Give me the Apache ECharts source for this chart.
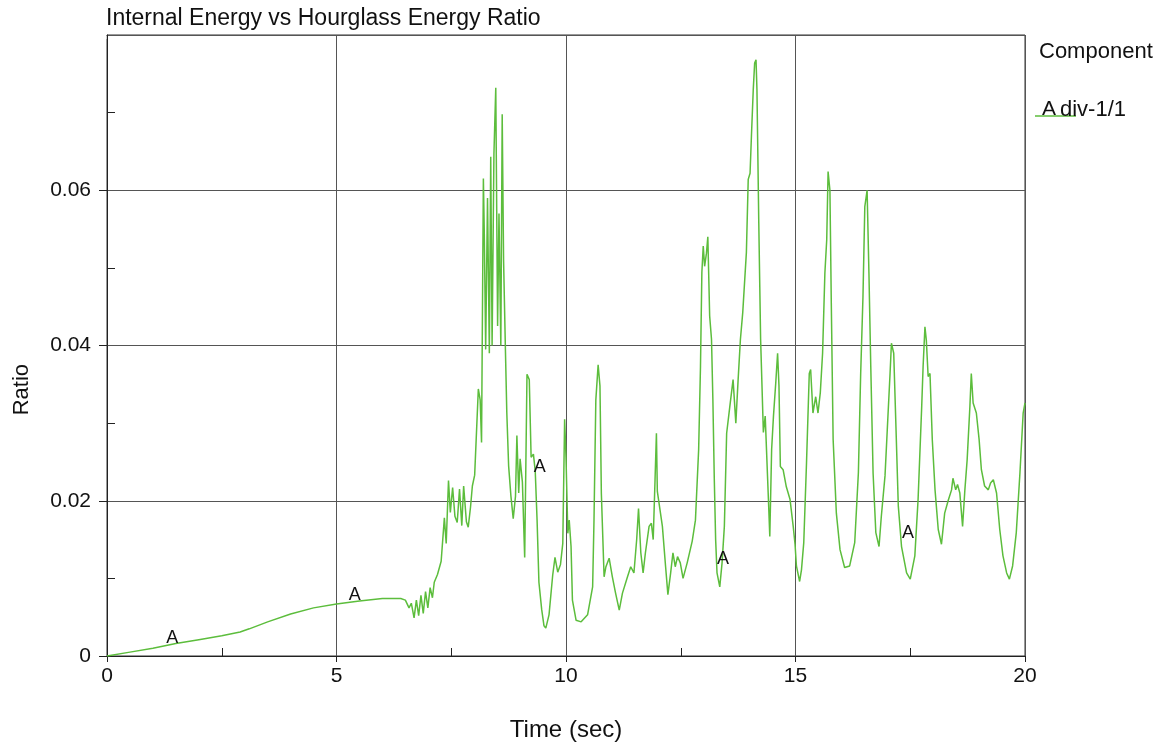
<!DOCTYPE html>
<html>
<head>
<meta charset="utf-8">
<script src="https://cdn.jsdelivr.net/npm/echarts@6/dist/echarts.min.js"></script>
<style>
html,body{margin:0;padding:0;background:#fff;}
#chart{width:1169px;height:749px;}
</style>
</head>
<body>
<div id="chart"></div>
<script>
var chartTitle = 'Internal Energy vs Hourglass Energy Ratio';
var xAxisName = 'Time (sec)';
var yAxisName = 'Ratio';
var legendTitle = 'Component';
var seriesMarker = 'A';
var seriesName = 'div-1/1';

var time = [
0,0.5,1.0,1.5,2.0,2.5,2.9,3.1,3.5,4.0,4.5,5.0,5.5,6.0,6.4,6.5,
6.58,6.63,6.69,6.74,6.79,6.84,6.89,6.94,6.99,7.04,7.09,7.13,7.2,7.28,7.35,7.39,
7.44,7.48,7.53,7.58,7.63,7.68,7.73,7.77,7.83,7.87,7.92,7.96,8.01,8.05,8.09,8.13,
8.16,8.2,8.22,8.25,8.29,8.33,8.36,8.39,8.43,8.47,8.51,8.54,8.58,8.61,8.64,8.68,
8.71,8.75,8.8,8.85,8.9,8.93,8.97,9.0,9.05,9.1,9.15,9.2,9.24,9.29,9.33,9.37,
9.41,9.47,9.52,9.56,9.63,9.71,9.76,9.82,9.88,9.93,9.97,10.0,10.04,10.07,10.11,10.14,
10.22,10.33,10.47,10.58,10.61,10.65,10.7,10.74,10.77,10.83,10.87,10.94,11.01,11.08,11.16,11.23,
11.34,11.41,11.48,11.54,11.58,11.63,11.68,11.73,11.81,11.86,11.9,11.94,11.97,11.99,12.03,12.1,
12.17,12.22,12.28,12.33,12.38,12.43,12.49,12.55,12.64,12.75,12.82,12.89,12.93,12.96,12.99,13.02,
13.06,13.09,13.13,13.17,13.2,13.23,13.26,13.29,13.35,13.4,13.45,13.5,13.57,13.64,13.7,13.75,
13.8,13.85,13.89,13.93,13.97,14.01,14.04,14.08,14.11,14.14,14.16,14.2,14.24,14.3,14.34,14.41,
14.44,14.48,14.52,14.57,14.61,14.64,14.67,14.73,14.8,14.88,14.95,14.99,15.02,15.09,15.13,15.18,
15.24,15.3,15.33,15.38,15.44,15.49,15.54,15.59,15.64,15.68,15.71,15.75,15.78,15.82,15.89,15.97,
16.07,16.18,16.29,16.37,16.42,16.47,16.51,16.56,16.6,16.64,16.69,16.75,16.82,16.87,16.95,17.0,
17.06,17.09,17.14,17.19,17.24,17.31,17.42,17.5,17.6,17.67,17.75,17.78,17.82,17.85,17.89,17.93,
17.98,18.04,18.11,18.18,18.25,18.33,18.4,18.43,18.49,18.53,18.58,18.64,18.69,18.74,18.8,18.83,
18.87,18.91,18.94,19.0,19.05,19.12,19.2,19.25,19.31,19.38,19.45,19.52,19.6,19.66,19.73,19.81,
19.89,19.96,20.0
];

var ratio = [
0,0.0005,0.001,0.0016,0.0021,0.0026,0.0031,0.0035,0.0044,0.0054,0.0062,0.0067,0.0071,0.0074,0.0074,0.0072,
0.0062,0.0068,0.0049,0.0072,0.0052,0.0078,0.0055,0.0083,0.0062,0.0088,0.0075,0.0095,0.0105,0.0122,0.0178,0.0145,
0.0226,0.0185,0.0217,0.018,0.0172,0.0215,0.0168,0.0219,0.0173,0.0166,0.0192,0.0219,0.0233,0.0235,0.0344,0.033,
0.0275,0.0615,0.0544,0.0395,0.059,0.039,0.0643,0.040,0.0647,0.0732,0.0425,0.057,0.040,0.0698,0.051,0.0395,
0.0314,0.0245,0.0206,0.0177,0.0206,0.0284,0.021,0.0254,0.0224,0.0127,0.0363,0.0356,0.0256,0.026,0.0238,0.0175,
0.0095,0.006,0.0039,0.0036,0.0053,0.0104,0.0127,0.0108,0.0118,0.0145,0.0305,0.0256,0.0158,0.0175,0.0141,0.0072,
0.0046,0.0044,0.0053,0.0089,0.0175,0.033,0.0375,0.0348,0.021,0.0102,0.0115,0.0126,0.0102,0.0081,0.0059,0.0081,
0.0102,0.0115,0.0107,0.015,0.019,0.0133,0.0107,0.0133,0.0167,0.0171,0.015,0.0227,0.0287,0.0212,0.0214,0.0167,
0.0115,0.0079,0.0107,0.0133,0.0115,0.0128,0.012,0.010,0.012,0.0148,0.0175,0.0266,0.0373,0.0494,0.0528,0.0502,
0.0519,0.054,0.0438,0.0408,0.033,0.023,0.015,0.0107,0.0089,0.012,0.0167,0.0287,0.0322,0.0356,0.030,0.0356,
0.0408,0.0442,0.044,0.052,0.0614,0.0622,0.067,0.073,0.0764,0.0768,0.073,0.0558,0.0408,0.0288,0.0309,0.0202,
0.0154,0.0266,0.0309,0.0352,0.039,0.0348,0.0244,0.024,0.0218,0.0202,0.0167,0.0144,0.0116,0.0096,0.0111,0.0146,
0.0249,0.0364,0.0369,0.0313,0.0334,0.0313,0.0339,0.039,0.0493,0.0536,0.0624,0.060,0.0454,0.0279,0.0184,0.0137,
0.0114,0.0116,0.0146,0.0236,0.0364,0.0463,0.0579,0.060,0.0493,0.0373,0.0236,0.0159,0.0141,0.018,0.0232,0.0292,
0.0364,0.0403,0.039,0.0292,0.0193,0.0141,0.0107,0.0099,0.0129,0.0201,0.0322,0.0373,0.0424,0.0407,0.036,0.0364,
0.0279,0.0214,0.0163,0.0144,0.0184,0.0201,0.0214,0.0229,0.0214,0.0221,0.021,0.0167,0.0214,0.0253,0.0322,0.0364,
0.0326,0.0326,0.0313,0.0279,0.024,0.0219,0.0214,0.0223,0.0227,0.021,0.0163,0.0129,0.0107,0.0099,0.0116,0.0159,
0.0236,0.0313,0.0326
];

var markerX = [1.42, 5.4, 9.43, 13.42, 17.45];
var markerY = [0.0023, 0.0078, 0.0244, 0.0125, 0.0159];

var xTicks = [0, 5, 10, 15, 20];
var yTicks = [0, 0.02, 0.04, 0.06];

var lineColor = '#5cbd3c';
var font = '"Liberation Sans", Arial, sans-serif';

var seriesData = time.map(function (t, i) { return [t, ratio[i]]; });
var markData = markerX.map(function (x, i) {
  return { coord: [x, markerY[i]], value: seriesMarker };
});

var chart = echarts.init(document.getElementById('chart'), null, { renderer: 'canvas' });
chart.setOption({
  animation: false,
  backgroundColor: '#ffffff',
  title: {
    text: chartTitle,
    left: 101, top: 2,
    textStyle: { fontFamily: font, fontSize: 23, fontWeight: 'normal', color: '#111' }
  },
  grid: {
    left: 107, top: 35, right: 144, bottom: 93,
    show: true, borderColor: '#333', borderWidth: 1, backgroundColor: 'transparent'
  },
  xAxis: {
    type: 'value', min: 0, max: 20, interval: 5,
    name: xAxisName, nameLocation: 'middle', nameGap: 62,
    nameTextStyle: { fontFamily: font, fontSize: 24, color: '#111' },
    axisLine: { show: true, lineStyle: { color: '#222', width: 1 } },
    axisTick: { show: true, inside: false, length: 6, lineStyle: { color: '#222' } },
    minorTick: { show: true, splitNumber: 2, length: -8, lineStyle: { color: '#222' } },
    axisLabel: {
      fontFamily: font, fontSize: 21, color: '#111', margin: 10,
      formatter: function (v) { return xTicks.indexOf(v) >= 0 ? String(v) : ''; }
    },
    splitLine: { show: true, lineStyle: { color: '#555', width: 1 } }
  },
  yAxis: {
    type: 'value', min: 0, max: 0.08, interval: 0.02,
    axisLine: { show: true, lineStyle: { color: '#222', width: 1 } },
    axisTick: { show: true, inside: false, length: 8, lineStyle: { color: '#222' } },
    minorTick: { show: true, splitNumber: 2, length: -8, lineStyle: { color: '#222' } },
    axisLabel: {
      fontFamily: font, fontSize: 21, color: '#111', margin: 16,
      formatter: function (v) {
        for (var i = 0; i < yTicks.length; i++) {
          if (Math.abs(yTicks[i] - v) < 1e-9) return String(yTicks[i]);
        }
        return '';
      }
    },
    splitLine: { show: true, lineStyle: { color: '#555', width: 1 } }
  },
  graphic: [
    {
      type: 'rect', shape: { x: 95, y: 30, width: 11.5, height: 9 },
      style: { fill: '#ffffff' }, z: 100
    },
    {
      type: 'text', left: 11, top: 364, rotation: Math.PI / 2,
      style: { text: yAxisName, fontFamily: font, fontSize: 22, fill: '#111' }
    },
    {
      type: 'text', left: 1039, top: 41,
      style: { text: legendTitle, fontFamily: font, fontSize: 22, fill: '#111' }
    },
    {
      type: 'line', shape: { x1: 1035, y1: 116, x2: 1076, y2: 116 },
      style: { stroke: lineColor, lineWidth: 1.5 }
    },
    {
      type: 'text', left: 1042, top: 99,
      style: { text: seriesMarker, fontFamily: font, fontSize: 21, fill: '#111' }
    },
    {
      type: 'text', left: 1060, top: 99,
      style: { text: seriesName, fontFamily: font, fontSize: 22, fill: '#111' }
    }
  ],
  series: [{
    type: 'line',
    name: seriesName,
    data: seriesData,
    showSymbol: false,
    symbol: 'none',
    lineStyle: { color: lineColor, width: 1.5 },
    itemStyle: { color: lineColor },
    z: 3,
    markPoint: {
      symbol: 'circle', symbolSize: 1,
      itemStyle: { color: 'transparent' },
      label: {
        show: true, position: 'inside', formatter: seriesMarker,
        fontFamily: font, fontSize: 18, color: '#111'
      },
      data: markData
    }
  }]
});
</script>
</body>
</html>
